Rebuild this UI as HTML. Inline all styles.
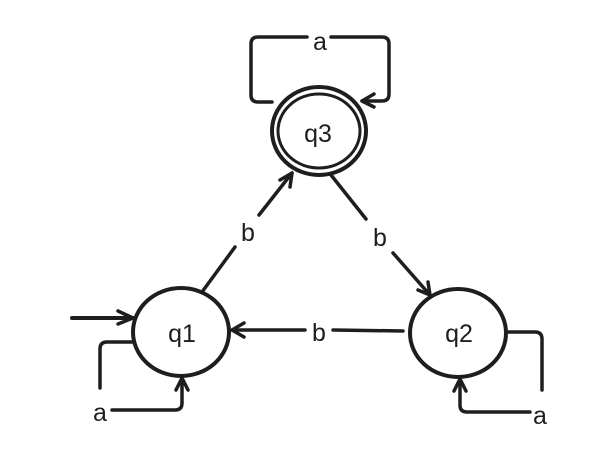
<!DOCTYPE html>
<html><head><meta charset="utf-8"><style>
html,body{margin:0;padding:0;background:#fff;}
svg{display:block;}
text{font-family:"Liberation Sans",sans-serif;font-size:25px;fill:#1e1e1e;}
</style></head><body>
<svg width="608" height="465" viewBox="0 0 608 465" xmlns="http://www.w3.org/2000/svg">
<g fill="none" stroke="#1e1e1e" stroke-width="3.5" stroke-linecap="round" stroke-linejoin="round">
<!-- q3 -->
<ellipse cx="319" cy="131" rx="47" ry="44" stroke-width="4"/>
<ellipse cx="319" cy="131" rx="41" ry="37" stroke-width="3"/>
<!-- q3 loop -->
<path d="M272 102 L258 102 Q251 102 251 95 L251 44 Q251 37 258 37 L307 37"/>
<path d="M331 37 L382 37 Q389 37 389 44 L389 94 Q389 101 382 101 L362 101"/>
<path d="M374 94 L362 101 L374 107"/>
<!-- q1 -->
<ellipse cx="181" cy="332" rx="48" ry="44" stroke-width="4"/>
<path d="M72 318 L133 318" stroke-width="4"/>
<path d="M118 311 L133 318 L118 324"/>
<path d="M132 342 L107 342 Q100 342 100 349 L100 388"/>
<path d="M112 410 L175 410 Q182 410 182 403 L182 378"/>
<path d="M176 390 L182 378 L188 390"/>
<!-- q2 -->
<ellipse cx="458" cy="333" rx="48" ry="44" stroke-width="4"/>
<path d="M507 332 L535 332 Q542 332 542 339 L542 390"/>
<path d="M530 412 L467 412 Q460 412 460 405 L460 379"/>
<path d="M454 391 L460 379 L466 391"/>
<!-- q1 -> q3 -->
<path d="M202 292 L235 247"/>
<path d="M259 215 L292 173"/>
<path d="M280 180 L292 173 L290 187"/>
<!-- q3 -> q2 -->
<path d="M331 175 L366 219"/>
<path d="M393 253 L430 295"/>
<path d="M418 290 L430 295 L428 282"/>
<!-- q2 -> q1 -->
<path d="M403 331 L333 330"/>
<path d="M305 330 L232 330"/>
<path d="M244 323 L232 330 L244 337"/>
</g>
<g text-anchor="middle">
<text x="318" y="142">q3</text>
<text x="182" y="342">q1</text>
<text x="459" y="342">q2</text>
<text x="320" y="50">a</text>
<text x="100" y="421">a</text>
<text x="540" y="424">a</text>
<text x="248" y="241">b</text>
<text x="380" y="246">b</text>
<text x="319" y="341">b</text>
</g>
</svg>
</body></html>
